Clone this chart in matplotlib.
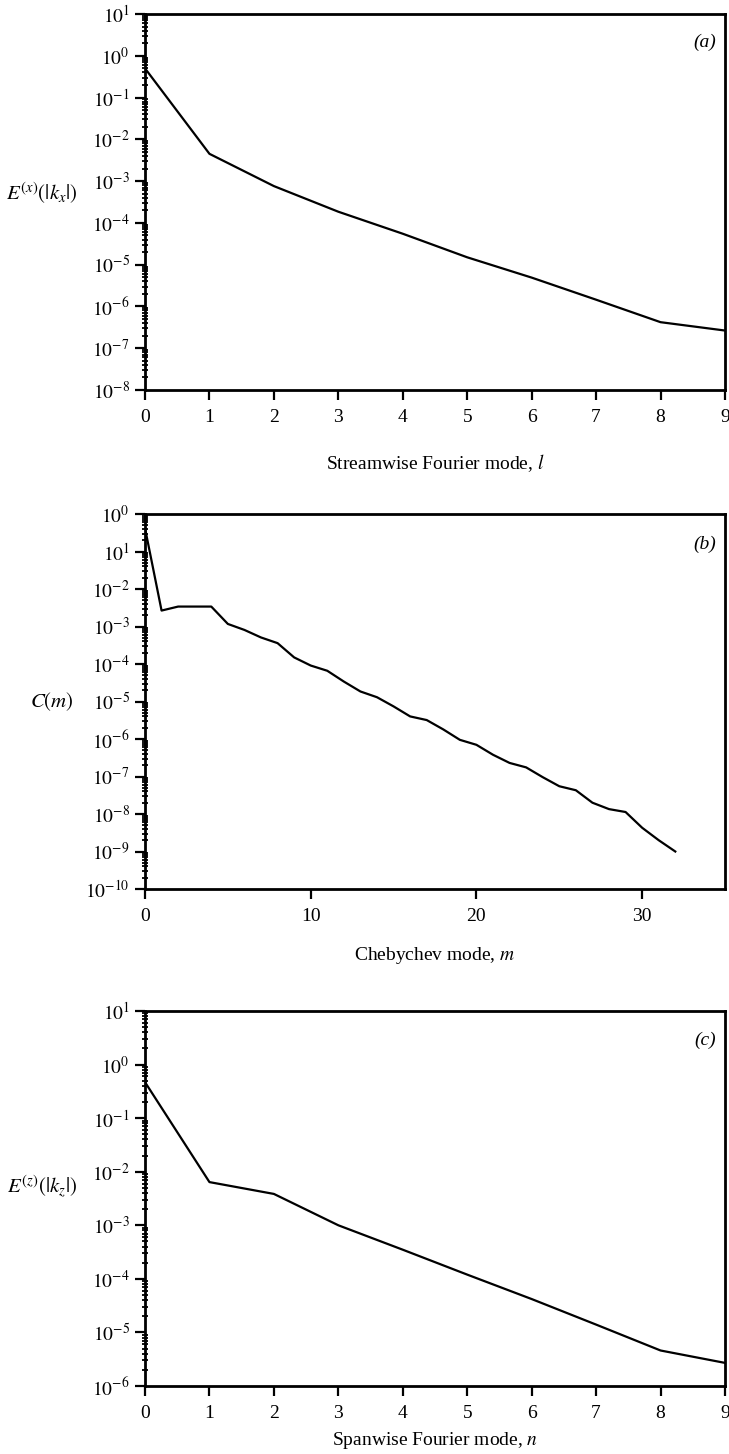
import matplotlib
matplotlib.use("Agg")
import matplotlib.pyplot as plt
from matplotlib.ticker import FixedLocator, FixedFormatter, LogLocator, NullFormatter

plt.rcParams['font.family'] = ['Liberation Serif', 'DejaVu Serif']
plt.rcParams['mathtext.fontset'] = 'stix'

# (a) streamwise Fourier spectrum
l_modes = [0, 1, 2, 3, 4, 5, 6, 7, 8, 9]
E_x = [0.5, 4.5e-3, 7.6e-4, 1.85e-4, 5.5e-5, 1.5e-5, 4.9e-6, 1.45e-6, 4.2e-7, 2.65e-7]

# (b) Chebychev spectrum
m_modes = list(range(33))
C_m = [0.42, 2.66e-3, 3.4e-3, 3.4e-3, 3.4e-3, 1.17e-3, 8.1e-4, 5.1e-4, 3.6e-4, 1.5e-4,
       9.1e-5, 6.6e-5, 3.4e-5, 1.85e-5, 1.3e-5, 7.4e-6, 4.0e-6, 3.2e-6, 1.8e-6, 9.5e-7,
       7.0e-7, 3.8e-7, 2.3e-7, 1.75e-7, 9.6e-8, 5.5e-8, 4.3e-8, 2.0e-8, 1.35e-8, 1.13e-8,
       4.3e-9, 2.0e-9, 1.0e-9]

# (c) spanwise Fourier spectrum
n_modes = [0, 1, 2, 3, 4, 5, 6, 7, 8, 9]
E_z = [0.47, 6.4e-3, 3.85e-3, 1.0e-3, 3.5e-4, 1.2e-4, 4.2e-5, 1.4e-5, 4.6e-6, 2.7e-6]

# y tick labels as printed (panel b has 10^1 where 10^-1 belongs)
labels_a = [r'$10^{%d}$' % e for e in range(-8, 2)]
labels_b = [r'$10^{%d}$' % e for e in range(-10, -1)] + [r'$10^{1}$', r'$10^{0}$']
labels_c = [r'$10^{%d}$' % e for e in range(-6, 2)]

W, H = 729, 1454
fig = plt.figure(figsize=(W / 100, H / 100), dpi=100)

left = 145 / W
width = 580 / W


def make_ax(top_px, bot_px):
    return fig.add_axes([left, 1 - bot_px / H, width, (bot_px - top_px) / H])


def style(ax, emin, emax, ylabels):
    ax.set_yscale('log')
    ax.set_ylim(10.0 ** emin, 10.0 ** emax)
    ax.yaxis.set_major_locator(FixedLocator([10.0 ** e for e in range(emin, emax + 1)]))
    ax.yaxis.set_major_formatter(FixedFormatter(ylabels))
    ax.yaxis.set_minor_locator(LogLocator(base=10, subs=range(2, 10), numticks=100))
    ax.yaxis.set_minor_formatter(NullFormatter())
    for s in ax.spines.values():
        s.set_linewidth(2.0)
    ax.tick_params(axis='both', which='major', direction='out', length=7, width=1.6,
                   labelsize=14)
    ax.tick_params(axis='y', which='major', pad=4)
    ax.tick_params(axis='x', which='major', pad=7)
    ax.tick_params(axis='y', which='minor', direction='inout', length=5, width=1.3)
    ax.tick_params(axis='x', which='minor', bottom=False)
    ax.tick_params(right=False, top=False)


# panel a
ax1 = make_ax(14, 390)
ax1.plot(l_modes, E_x, color='k', lw=1.6)
ax1.set_xlim(0, 9)
ax1.set_xticks(l_modes)
style(ax1, -8, 1, labels_a)
ax1.set_xlabel('Streamwise Fourier mode, $\\mathit{l}$', fontsize=14)
ax1.xaxis.set_label_coords(0.5, -0.165)
ax1.set_ylabel(r'$E^{(x)}(|k_x|)$', fontsize=15, rotation=0, ha='center', va='center')
ax1.yaxis.set_label_coords(-0.178, 0.524)
ax1.text(0.985, 0.925, '(a)', transform=ax1.transAxes, ha='right', va='center',
         fontsize=14, style='italic')

# panel b
ax2 = make_ax(514, 889)
ax2.plot(m_modes, C_m, color='k', lw=1.6)
ax2.set_xlim(0, 35)
ax2.set_xticks([0, 10, 20, 30])
style(ax2, -10, 0, labels_b)
ax2.set_xlabel('Chebychev mode, $\\mathit{m}$', fontsize=14)
ax2.xaxis.set_label_coords(0.5, -0.15)
ax2.set_ylabel(r'$C(m)$', fontsize=15, rotation=0, ha='center', va='center')
ax2.yaxis.set_label_coords(-0.16, 0.5)
ax2.text(0.985, 0.92, '(b)', transform=ax2.transAxes, ha='right', va='center',
         fontsize=14, style='italic')

# panel c
ax3 = make_ax(1011, 1386)
ax3.plot(n_modes, E_z, color='k', lw=1.6)
ax3.set_xlim(0, 9)
ax3.set_xticks(n_modes)
style(ax3, -6, 1, labels_c)
ax3.set_xlabel('Spanwise Fourier mode, $\\mathit{n}$', fontsize=14)
ax3.xaxis.set_label_coords(0.5, -0.118)
ax3.set_ylabel(r'$E^{(z)}(|k_z|)$', fontsize=15, rotation=0, ha='center', va='center')
ax3.yaxis.set_label_coords(-0.178, 0.53)
ax3.text(0.985, 0.923, '(c)', transform=ax3.transAxes, ha='right', va='center',
         fontsize=14, style='italic')

fig.savefig('out.png', dpi=100, facecolor='white')
